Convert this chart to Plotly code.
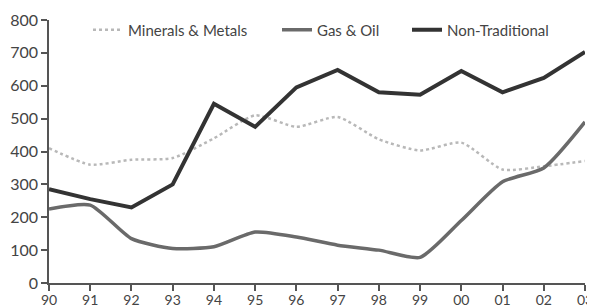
import plotly.graph_objects as go

years = list(range(1990, 2004))
year_labels = ["90", "91", "92", "93", "94", "95", "96", "97", "98", "99", "00", "01", "02", "03"]
minerals_metals = [410, 360, 375, 380, 440, 510, 475, 505, 437, 403, 427, 345, 355, 371]
gas_oil = [225, 237, 135, 105, 110, 155, 140, 115, 100, 78, 190, 308, 350, 490]
non_traditional = [285, 255, 230, 300, 545, 475, 595, 648, 580, 573, 645, 580, 624, 703]

# the page body has an 8px margin, so the figure is drawn 8px in from the top-left
OFF = 8
W, H = 595 - OFF, 308 - OFF

fig = go.Figure()
fig.add_trace(go.Scatter(x=years, y=minerals_metals, mode="lines", name="Minerals & Metals", legend="legend",
                         line=dict(color="#b8b8b8", width=2.5, dash="dot", shape="spline", smoothing=0.6)))
fig.add_trace(go.Scatter(x=years, y=gas_oil, mode="lines", name="Gas & Oil", legend="legend2",
                         line=dict(color="#6a6a6a", width=3.5, shape="spline", smoothing=0.6)))
fig.add_trace(go.Scatter(x=years, y=non_traditional, mode="lines", name="Non-Traditional", legend="legend3",
                         line=dict(color="#333333", width=4)))

def leg(px):
    return dict(xref="container", yref="container", x=(px - OFF - 5) / W, y=1 - (30 - OFF) / H,
                xanchor="left", yanchor="middle", orientation="h",
                font=dict(size=15, color="#444444"), bgcolor="rgba(0,0,0,0)", borderwidth=0)

fig.update_layout(
    width=W, height=H,
    margin=dict(l=49 - OFF, r=10, t=20 - OFF, b=25, autoexpand=False),
    paper_bgcolor="white", plot_bgcolor="white",
    font=dict(family="Lato, DejaVu Sans, sans-serif", color="#444444"),
    showlegend=True,
    legend=leg(93), legend2=leg(282), legend3=leg(412),
    xaxis=dict(range=[1990, 2003], tickmode="array", tickvals=years, ticktext=year_labels,
               showgrid=False, zeroline=False, showline=True, linecolor="#555555", linewidth=1.5,
               ticks="outside", ticklen=6, tickcolor="#555555", tickwidth=1.5, automargin=False,
               ticklabelstandoff=-3, tickfont=dict(size=14, color="#444444")),
    yaxis=dict(range=[0, 800], tickmode="array", tickvals=list(range(0, 801, 100)),
               showgrid=False, zeroline=False, showline=True, linecolor="#555555", linewidth=1.5,
               ticks="outside", ticklen=6, tickcolor="#555555", tickwidth=1.5, automargin=False,
               tickfont=dict(size=16, color="#444444")),
)

fig.write_html("out.html")
